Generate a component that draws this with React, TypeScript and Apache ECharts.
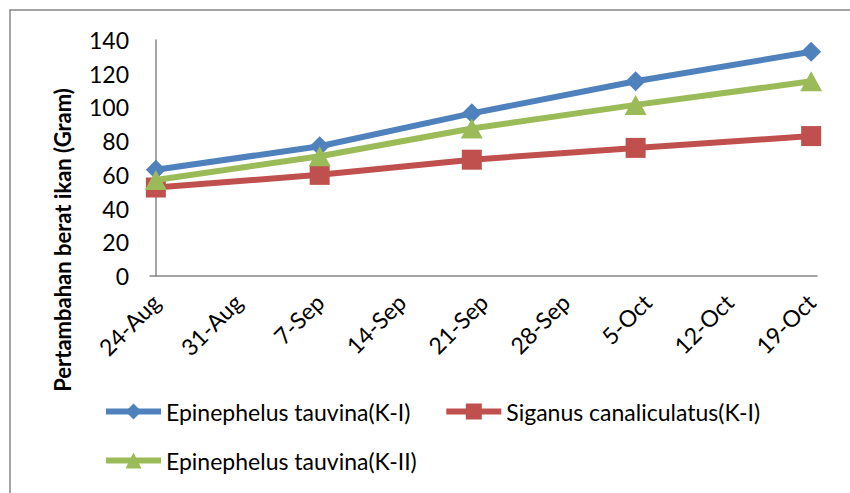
import React, { useEffect, useRef } from "react";
import * as echarts from "echarts";

// Day offsets from 24-Aug for each measurement
const dayOffsets = [0, 14, 27, 41, 56];
const tickDays = [0, 7, 14, 21, 28, 35, 42, 49, 56];
const tickLabels = ["24-Aug", "31-Aug", "7-Sep", "14-Sep", "21-Sep", "28-Sep", "5-Oct", "12-Oct", "19-Oct"];

const seriesNames = [
  "Epinephelus tauvina(K-I)",
  "Siganus canaliculatus(K-I)",
  "Epinephelus tauvina(K-II)",
];
const epinephelusK1 = [63, 77, 96.5, 115.5, 133];
const siganusK1 = [52.5, 60, 69, 76, 83];
const epinephelusK2 = [57, 71, 87.5, 101.5, 115.5];

const colors = ["#4F81BD", "#C0504D", "#9BBB59"];
const symbols = ["diamond", "rect", "triangle"];
const symbolSizes: [number, number][] = [[20, 20], [20, 20], [22, 20]];

const FONT = "Lato, 'Open Sans', sans-serif";

export default function App() {
  const ref = useRef<HTMLDivElement>(null);
  useEffect(() => {
    if (!ref.current) return;
    const chart = echarts.init(ref.current, undefined, { renderer: "svg" });
    const values = [epinephelusK1, siganusK1, epinephelusK2];
    const legendCommon = {
      padding: 0,
      itemWidth: 55,
      itemHeight: 20,
      lineStyle: { width: 6 },
      textStyle: { fontSize: 23, color: "#000", fontFamily: FONT },
    };
    chart.setOption({
      animation: false,
      textStyle: { fontFamily: FONT },
      grid: { left: 150, right: 33, top: 40, bottom: 217, containLabel: false },
      xAxis: {
        type: "value",
        min: -0.5,
        max: 56.5,
        splitLine: { show: false },
        axisTick: { show: false },
        axisLine: { show: true, lineStyle: { color: "#868686", width: 1.5 } },
        axisLabel: {
          customValues: tickDays,
          rotate: 45,
          margin: 22,
          fontSize: 23,
          color: "#000",
          fontFamily: FONT,
          formatter: (v: number) => tickLabels[tickDays.indexOf(Math.round(v))] ?? "",
        },
      },
      yAxis: {
        type: "value",
        min: 0,
        max: 140,
        interval: 20,
        splitLine: { show: false },
        axisTick: { show: false },
        axisLine: { show: true, lineStyle: { color: "#868686", width: 1.5 } },
        axisLabel: { fontSize: 23, color: "#000", margin: 21, fontFamily: FONT },
      },
      legend: [
        {
          ...legendCommon,
          data: [seriesNames[0], seriesNames[1]],
          left: 103,
          top: 400,
          itemGap: 33,
        },
        {
          ...legendCommon,
          data: [seriesNames[2]],
          left: 103,
          top: 449,
        },
      ],
      graphic: [
        {
          type: "rect",
          shape: { x: 10, y: 10, width: 900, height: 600 },
          style: { fill: "none", stroke: "#868686", lineWidth: 1.5 },
          silent: true,
        },
        {
          type: "text",
          x: 62,
          y: 240,
          rotation: Math.PI / 2,
          style: {
            text: "Pertambahan berat ikan (Gram)",
            font: `bold 22px ${FONT}`,
            fill: "#000",
            align: "center",
            verticalAlign: "middle",
          },
        },
      ],
      series: values.map((vals, i) => ({
        name: seriesNames[i],
        type: "line",
        data: dayOffsets.map((d, j) => [d, vals[j]]),
        symbol: symbols[i],
        symbolSize: symbolSizes[i],
        lineStyle: { color: colors[i], width: 6 },
        itemStyle: { color: colors[i] },
        z: 3 + (i === 2 ? 1 : 0),
      })),
    });
    return () => chart.dispose();
  }, []);
  return (
    <div
      ref={ref}
      style={{ position: "absolute", left: 0, top: 0, width: 850, height: 493, background: "#fff" }}
    />
  );
}
